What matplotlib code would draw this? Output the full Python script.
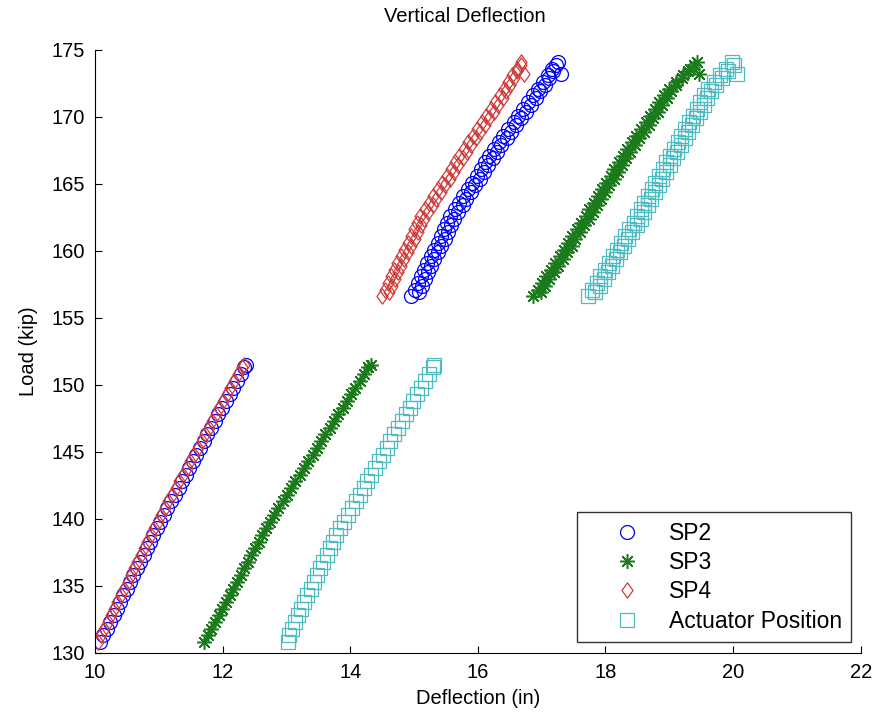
import matplotlib
matplotlib.use("Agg")
import matplotlib.pyplot as plt
from matplotlib.path import Path

plt.rcParams['font.family'] = ['Liberation Sans', 'DejaVu Sans']

# load steps, lower and upper cycles (kip)
load_low = [130.8, 131.3, 131.8, 132.3, 132.8, 133.3, 133.8, 134.3, 134.8, 135.3,
            135.8, 136.3, 136.8, 137.3, 137.8, 138.3, 138.8, 139.3, 139.8, 140.3,
            140.8, 141.3, 141.8, 142.3, 142.8, 143.3, 143.8, 144.3, 144.8, 145.3,
            145.8, 146.3, 146.8, 147.3, 147.8, 148.3, 148.8, 149.3, 149.8, 150.3,
            150.8, 151.3, 151.5]
load_high = [156.6, 157.1, 157.6, 158.1, 158.6, 159.1, 159.6, 160.1, 160.6, 161.1,
             161.6, 162.1, 162.6, 163.1, 163.6, 164.1, 164.6, 165.1, 165.6, 166.1,
             166.6, 167.1, 167.6, 168.1, 168.6, 169.1, 169.6, 170.1, 170.6, 171.1,
             171.6, 172.1, 172.6, 173.1, 173.6, 174.1, 173.2]
# readings taken while holding between load steps, upper cycle
load_hold = [156.9, 157.4, 157.9, 158.4, 158.9, 159.4, 159.9, 160.4, 160.9, 161.4,
             161.9, 162.4, 162.9, 163.4, 163.9, 164.4, 164.9, 165.4, 165.9, 166.4,
             166.9, 167.4, 167.9, 168.4, 168.9, 169.4, 169.9, 170.4, 170.9, 171.4,
             171.9, 172.4, 172.9, 173.4, 173.9]

# deflections (in)
sp2_low = [10.08, 10.13, 10.18, 10.24, 10.29, 10.34, 10.39, 10.44, 10.50, 10.55,
           10.60, 10.65, 10.70, 10.76, 10.81, 10.86, 10.91, 10.97, 11.02, 11.08,
           11.13, 11.19, 11.25, 11.31, 11.36, 11.42, 11.48, 11.53, 11.59, 11.65,
           11.71, 11.76, 11.82, 11.88, 11.93, 11.99, 12.05, 12.11, 12.16, 12.22,
           12.28, 12.34, 12.36]
sp3_low = [11.71, 11.77, 11.82, 11.88, 11.94, 11.99, 12.05, 12.11, 12.17, 12.22,
           12.28, 12.34, 12.39, 12.45, 12.51, 12.57, 12.62, 12.68, 12.74, 12.81,
           12.87, 12.94, 13.01, 13.07, 13.14, 13.21, 13.28, 13.34, 13.41, 13.48,
           13.54, 13.61, 13.68, 13.74, 13.81, 13.88, 13.95, 14.01, 14.08, 14.15,
           14.21, 14.28, 14.32]
sp4_low = [10.04, 10.09, 10.14, 10.20, 10.25, 10.30, 10.35, 10.40, 10.46, 10.51,
           10.56, 10.61, 10.66, 10.72, 10.77, 10.82, 10.87, 10.93, 10.98, 11.04,
           11.09, 11.15, 11.21, 11.27, 11.32, 11.38, 11.44, 11.49, 11.55, 11.61,
           11.67, 11.72, 11.78, 11.84, 11.89, 11.95, 12.01, 12.07, 12.12, 12.18,
           12.24, 12.30, 12.33]
act_low = [13.02, 13.04, 13.08, 13.13, 13.18, 13.23, 13.28, 13.33, 13.38, 13.43,
           13.48, 13.53, 13.58, 13.63, 13.68, 13.73, 13.78, 13.84, 13.91, 13.97,
           14.03, 14.09, 14.15, 14.21, 14.27, 14.33, 14.39, 14.45, 14.51, 14.57,
           14.63, 14.69, 14.75, 14.81, 14.87, 14.93, 14.99, 15.05, 15.11, 15.17,
           15.23, 15.29, 15.32]

sp2_high = [14.96, 15.01, 15.06, 15.11, 15.16, 15.21, 15.26, 15.32, 15.37, 15.42,
            15.47, 15.52, 15.57, 15.64, 15.71, 15.77, 15.84, 15.91, 15.98, 16.05,
            16.11, 16.18, 16.25, 16.33, 16.40, 16.48, 16.56, 16.63, 16.71, 16.79,
            16.86, 16.94, 17.02, 17.10, 17.17, 17.25, 17.30]
sp3_high = [16.87, 16.94, 17.01, 17.07, 17.14, 17.21, 17.28, 17.35, 17.42, 17.48,
            17.55, 17.62, 17.69, 17.75, 17.82, 17.88, 17.95, 18.01, 18.08, 18.14,
            18.21, 18.27, 18.34, 18.41, 18.48, 18.56, 18.63, 18.70, 18.77, 18.84,
            18.92, 18.99, 19.10, 19.21, 19.32, 19.43, 19.47]
sp4_high = [14.49, 14.54, 14.59, 14.64, 14.69, 14.74, 14.80, 14.85, 14.90, 14.95,
            15.00, 15.05, 15.10, 15.17, 15.24, 15.30, 15.37, 15.44, 15.51, 15.58,
            15.64, 15.71, 15.78, 15.85, 15.92, 15.99, 16.06, 16.13, 16.20, 16.27,
            16.34, 16.41, 16.48, 16.54, 16.61, 16.67, 16.72]
act_high = [17.73, 17.79, 17.86, 17.92, 17.99, 18.05, 18.12, 18.18, 18.24, 18.31,
            18.37, 18.44, 18.50, 18.56, 18.61, 18.67, 18.73, 18.78, 18.84, 18.90,
            18.95, 19.01, 19.07, 19.13, 19.19, 19.25, 19.31, 19.37, 19.43, 19.48,
            19.54, 19.60, 19.70, 19.79, 19.89, 19.98, 20.06]

sp2_hold = [15.07, 15.12, 15.17, 15.22, 15.27, 15.32, 15.37, 15.43, 15.48, 15.53,
            15.58, 15.63, 15.69, 15.76, 15.82, 15.89, 15.96, 16.03, 16.10, 16.16,
            16.23, 16.30, 16.37, 16.45, 16.52, 16.60, 16.68, 16.75, 16.83, 16.91,
            16.98, 17.06, 17.12, 17.18, 17.23]
sp3_hold = [16.99, 17.06, 17.12, 17.19, 17.26, 17.33, 17.40, 17.47, 17.53, 17.60,
            17.67, 17.74, 17.80, 17.87, 17.93, 18.00, 18.06, 18.13, 18.19, 18.26,
            18.32, 18.39, 18.46, 18.53, 18.60, 18.68, 18.75, 18.82, 18.89, 18.96,
            19.03, 19.11, 19.20, 19.30, 19.39]
sp4_hold = [14.60, 14.65, 14.70, 14.75, 14.80, 14.85, 14.91, 14.96, 15.01, 15.06,
            15.11, 15.16, 15.22, 15.29, 15.35, 15.42, 15.49, 15.56, 15.63, 15.69,
            15.76, 15.83, 15.90, 15.97, 16.04, 16.11, 16.18, 16.25, 16.32, 16.39,
            16.44, 16.50, 16.56, 16.62, 16.67]
act_hold = [17.84, 17.91, 17.97, 18.04, 18.10, 18.17, 18.23, 18.29, 18.36, 18.42,
            18.49, 18.55, 18.61, 18.67, 18.72, 18.78, 18.84, 18.89, 18.95, 19.01,
            19.06, 19.12, 19.18, 19.24, 19.30, 19.36, 19.42, 19.48, 19.54, 19.59,
            19.65, 19.73, 19.82, 19.92, 20.01]

x_ticks = [10, 12, 14, 16, 18, 20, 22]
y_ticks = [130, 135, 140, 145, 150, 155, 160, 165, 170, 175]

# matlab-like diamond, a bit wider than matplotlib's thin one
diamond = Path([(0, 1), (0.72, 0), (0, -1), (-0.72, 0), (0, 1)],
               [Path.MOVETO, Path.LINETO, Path.LINETO, Path.LINETO, Path.CLOSEPOLY])

loads = load_low + load_high + load_hold
series = [
    ("SP2", sp2_low + sp2_high + sp2_hold, "o", "#0000ff", 10, 0.9),
    ("SP3", sp3_low + sp3_high + sp3_hold, (8, 2, 0), "#1b7a1b", 10.5, 1.1),
    ("SP4", sp4_low + sp4_high + sp4_hold, diamond, "#d03a3a", 11, 0.9),
    ("Actuator Position", act_low + act_high + act_hold, "s", "#4cbcc2", 10, 0.9),
]

fig = plt.figure(figsize=(8.8, 7.23), dpi=100)
ax = fig.add_axes([0.108, 0.097, 0.870, 0.834])

for name, defl, marker, color, size, width in series:
    ax.plot(defl, loads, linestyle="none", marker=marker, markersize=size,
            markerfacecolor="none", markeredgecolor=color,
            markeredgewidth=width, label=name)

ax.set_xlim(10, 22)
ax.set_ylim(130, 175)
ax.set_xticks(x_ticks)
ax.set_yticks(y_ticks)
ax.tick_params(direction="in", length=5, labelsize=14.5, pad=7)
ax.spines["top"].set_visible(False)
ax.spines["right"].set_visible(False)

ax.set_xlabel("Deflection (in)", fontsize=14.5, labelpad=5)
ax.set_ylabel("Load (kip)", fontsize=14.5, labelpad=10)
ax.set_title("Vertical Deflection", fontsize=14.5, pad=20, x=0.483)

legend = ax.legend(loc="lower right", fontsize=16.5, frameon=True,
                   fancybox=False, edgecolor="black", borderpad=0.4,
                   handlelength=3.56, handletextpad=0.05, labelspacing=0.28,
                   borderaxespad=0, bbox_to_anchor=(0.988, 0.018))
legend.get_frame().set_linewidth(1.0)

fig.savefig("out.png", dpi=100)
